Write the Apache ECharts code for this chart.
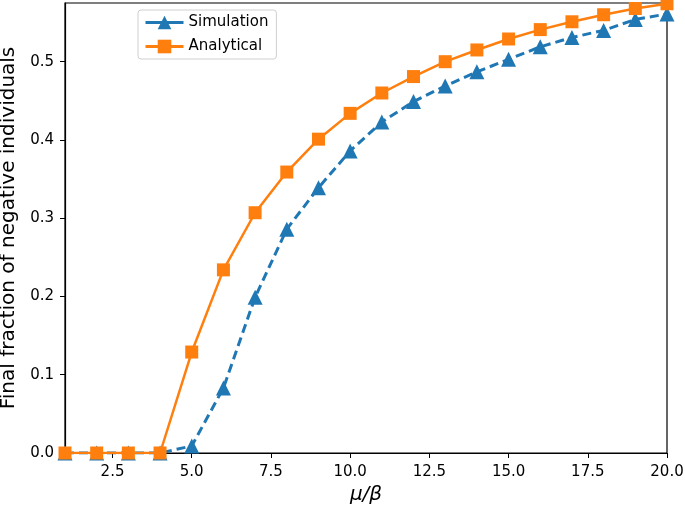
<!DOCTYPE html>
<html>
<head>
<meta charset="utf-8">
<script src="https://cdn.jsdelivr.net/npm/echarts@6/dist/echarts.min.js"></script>
<style>
  html, body { margin: 0; padding: 0; background: #fff; }
  #chart { width: 685px; height: 510px; }
</style>
</head>
<body>
<div id="chart"></div>
<script>
// mu/beta values on the x axis
const ratios = [1, 2, 3, 4, 5, 6, 7, 8, 9, 10, 11, 12, 13, 14, 15, 16, 17, 18, 19, 20];
const simulation = [0, 0, 0, 0, 0.009, 0.083, 0.199, 0.286, 0.339, 0.386, 0.423, 0.449, 0.469, 0.487, 0.503, 0.519, 0.531, 0.540, 0.554, 0.561];
const analytical = [0, 0, 0, 0, 0.129, 0.234, 0.307, 0.359, 0.401, 0.434, 0.460, 0.481, 0.500, 0.515, 0.529, 0.541, 0.551, 0.560, 0.568, 0.574];
const xTicks = [2.5, 5, 7.5, 10, 12.5, 15, 17.5, 20];
const yTicks = [0, 0.1, 0.2, 0.3, 0.4, 0.5];

const chart = echarts.init(document.getElementById('chart'));
const font = 'DejaVu Sans';

const pairs = arr => ratios.map((x, i) => [x, arr[i]]);

const option = {
  animation: false,
  backgroundColor: '#fff',
  textStyle: { fontFamily: font },
  grid: {
    left: 65, right: 18, top: 3, bottom: 57,
    outerBoundsMode: 'none',
    show: true, borderColor: '#000', borderWidth: 1.2, backgroundColor: 'transparent'
  },
  legend: {
    left: 138, top: 10,
    orient: 'vertical',
    itemGap: 9,
    itemWidth: 38, itemHeight: 17,
    padding: [5, 8, 5, 6],
    borderColor: '#d0d0d0', borderWidth: 1, borderRadius: 3,
    textStyle: { fontSize: 15, color: '#000', fontFamily: font },
    data: [
      { name: 'Simulation', lineStyle: { width: 3, type: 'solid' } },
      { name: 'Analytical', lineStyle: { width: 3 } }
    ]
  },
  xAxis: {
    type: 'value', min: 1, max: 20,
    name: 'μ/β', nameLocation: 'middle', nameGap: 32,
    nameTextStyle: { fontSize: 20, fontStyle: 'italic', color: '#000', fontFamily: font },
    axisLine: { show: true, onZero: false, lineStyle: { color: '#000', width: 1.2 } },
    axisTick: { show: true, inside: false, length: 5, customValues: xTicks, lineStyle: { color: '#000' } },
    axisLabel: { customValues: xTicks, fontSize: 15, color: '#000', margin: 12,
      formatter: v => v.toFixed(1) },
    splitLine: { show: false }
  },
  yAxis: {
    type: 'value', min: 0, max: 0.575,
    name: 'Final fraction of negative individuals', nameLocation: 'middle', nameGap: 44,
    nameTextStyle: { fontSize: 20, color: '#000', fontFamily: font },
    axisLine: { show: true, onZero: false, lineStyle: { color: '#000', width: 1.2 } },
    axisTick: { show: true, inside: false, length: 5, customValues: yTicks, lineStyle: { color: '#000' } },
    axisLabel: { customValues: yTicks, fontSize: 15, color: '#000', margin: 11,
      formatter: v => v.toFixed(1) },
    splitLine: { show: false }
  },
  series: [
    {
      name: 'Simulation', type: 'line',
      data: pairs(simulation),
      symbol: 'triangle', symbolSize: 15,
      color: '#1f77b4',
      itemStyle: { color: '#1f77b4' },
      lineStyle: { color: '#1f77b4', width: 3, type: [9, 5] },
      z: 2
    },
    {
      name: 'Analytical', type: 'line',
      data: pairs(analytical),
      symbol: 'rect', symbolSize: 13,
      color: '#ff7f0e',
      itemStyle: { color: '#ff7f0e' },
      lineStyle: { color: '#ff7f0e', width: 2.5 },
      z: 3
    }
  ]
};

chart.setOption(option);
</script>
</body>
</html>
